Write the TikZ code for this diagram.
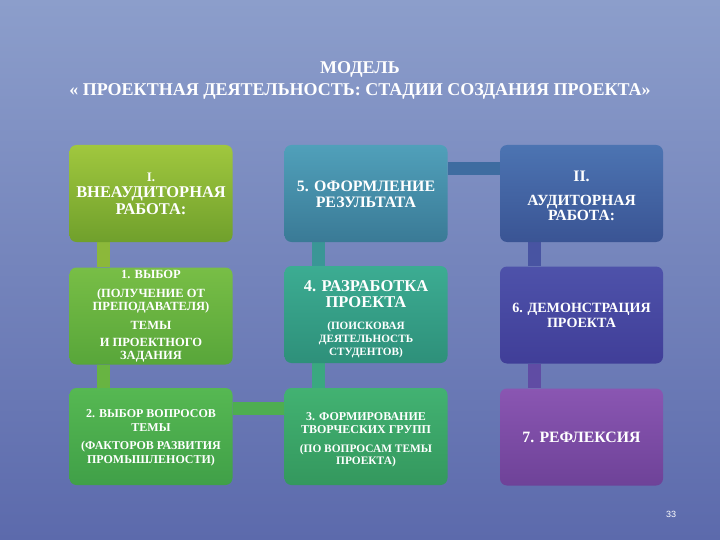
\documentclass[tikz,border=0pt]{standalone}
\usepackage{fontspec}
\setmainfont{Liberation Serif}
\setsansfont{Liberation Sans}
\definecolor{bgtop}{RGB}{140,158,203}
\definecolor{bgbot}{RGB}{92,106,172}
\definecolor{aT}{RGB}{160,199,62}\definecolor{aB}{RGB}{112,160,44}
\definecolor{bT}{RGB}{120,190,70}\definecolor{bB}{RGB}{88,166,58}
\definecolor{cT}{RGB}{86,184,82}\definecolor{cB}{RGB}{64,160,72}
\definecolor{dT}{RGB}{80,160,186}\definecolor{dB}{RGB}{58,122,150}
\definecolor{eT}{RGB}{60,172,146}\definecolor{eB}{RGB}{46,144,122}
\definecolor{fT}{RGB}{66,178,114}\definecolor{fB}{RGB}{52,152,94}
\definecolor{gT}{RGB}{76,116,178}\definecolor{gB}{RGB}{58,84,148}
\definecolor{hT}{RGB}{78,82,170}\definecolor{hB}{RGB}{64,62,152}
\definecolor{iT}{RGB}{138,86,178}\definecolor{iB}{RGB}{110,66,152}
\definecolor{c1}{RGB}{140,184,58}
\definecolor{c2}{RGB}{104,180,66}
\definecolor{c3}{RGB}{78,174,80}
\definecolor{c4}{RGB}{58,168,128}
\definecolor{c5}{RGB}{58,150,150}
\definecolor{c6}{RGB}{62,108,160}
\definecolor{c7}{RGB}{72,84,162}
\definecolor{c8}{RGB}{96,76,164}
\pgfdeclarelayer{backdrop}
\pgfdeclarelayer{links}
\pgfsetlayers{backdrop,links,main}
\newcommand{\fsz}[2]{\fontsize{#1}{#2}\selectfont}
\tikzset{
  box/.style={rounded corners=7pt, minimum width=163pt, minimum height=97pt},
  txt/.style={align=center, text=white, inner sep=1pt},
  conn/.style={line width=13pt},
}
\begin{document}
\begin{tikzpicture}[x=1pt,y=-1pt]
\begin{pgfonlayer}{backdrop}
\shade[top color=bgtop, bottom color=bgbot] (0,0) rectangle (720,540);
\end{pgfonlayer}
\useasboundingbox (0,0) rectangle (720,540);

\node[txt, font=\bfseries\fsz{18}{22}] (title) at (360,80)
  {МОДЕЛЬ\\« ПРОЕКТНАЯ ДЕЯТЕЛЬНОСТЬ: СТАДИИ СОЗДАНИЯ ПРОЕКТА»};

% boxes
\node[box, top color=aT, bottom color=aB] (b1)  at (151,193.5) {};
\node[box, top color=bT, bottom color=bB] (b1b) at (151,316) {};
\node[box, top color=cT, bottom color=cB] (b2)  at (151,436.5) {};
\node[box, top color=dT, bottom color=dB] (b5)  at (366,193.5) {};
\node[box, top color=eT, bottom color=eB] (b4)  at (366,314.5) {};
\node[box, top color=fT, bottom color=fB] (b3)  at (366,436.5) {};
\node[box, top color=gT, bottom color=gB] (bII) at (581.5,193.5) {};
\node[box, top color=hT, bottom color=hB] (b6)  at (581.5,315) {};
\node[box, top color=iT, bottom color=iB] (b7)  at (581.5,437) {};

% connectors (behind boxes)
\begin{pgfonlayer}{links}
\draw[conn, c1] ([xshift=-48pt]b1.south) -- ([xshift=-48pt]b1b.north);
\draw[conn, c2] ([xshift=-48pt]b1b.south) -- ([xshift=-48pt]b2.north);
\draw[conn, c3] ([yshift=28.5pt]b2.east) -- ([yshift=28.5pt]b3.west);
\draw[conn, c4] ([xshift=-48pt]b3.north) -- ([xshift=-48pt]b4.south);
\draw[conn, c5] ([xshift=-48pt]b4.north) -- ([xshift=-48pt]b5.south);
\draw[conn, c6] ([yshift=25pt]b5.east) -- ([yshift=25pt]bII.west);
\draw[conn, c7] ([xshift=-47.5pt]bII.south) -- ([xshift=-47.5pt]b6.north);
\draw[conn, c8] ([xshift=-47.5pt]b6.south) -- ([xshift=-47.5pt]b7.north);
\end{pgfonlayer}

% texts
\node[txt, font=\bfseries\fsz{16.4}{17}] (t1) at (b1.center)
  {\fsz{13}{13}I.\\[-1pt]ВНЕАУДИТОРНАЯ\\РАБОТА:};
\node[txt, font=\bfseries\fsz{12.5}{13}] (t1b) at (b1b.center)
  {1. ВЫБОР\\[6pt](ПОЛУЧЕНИЕ ОТ\\ПРЕПОДАВАТЕЛЯ)\\[6pt]ТЕМЫ\\[4pt]И ПРОЕКТНОГО\\ЗАДАНИЯ};
\node[txt, font=\bfseries\fsz{12}{14}, yshift=-1.5pt] (t2) at (b2.center)
  {2. ВЫБОР ВОПРОСОВ\\ТЕМЫ\\[4pt](ФАКТОРОВ РАЗВИТИЯ\\ПРОМЫШЛЕНОСТИ)};
\node[txt, font=\bfseries\fsz{15.9}{16}, yshift=-1pt] (t5) at (b5.center)
  {5. ОФОРМЛЕНИЕ\\РЕЗУЛЬТАТА};
\node[txt, font=\bfseries\fsz{16.5}{13}, yshift=-5pt] (t4) at (b4.center)
  {4. РАЗРАБОТКА\\[3pt]ПРОЕКТА\\[9pt]\fsz{11.2}{13}(ПОИСКОВАЯ\\\fsz{11.2}{13}ДЕЯТЕЛЬНОСТЬ\\\fsz{11.2}{13}СТУДЕНТОВ)};
\node[txt, font=\bfseries\fsz{12}{13}, yshift=-3pt] (t3) at (b3.center)
  {3. ФОРМИРОВАНИЕ\\ТВОРЧЕСКИХ ГРУПП\\[6pt]\fsz{11.4}{13}(ПО ВОПРОСАМ ТЕМЫ\\[-1pt]\fsz{11.4}{13}ПРОЕКТА)};
\node[txt, font=\bfseries\fsz{15.5}{14.5}, yshift=-2pt] (tII) at (bII.center)
  {\fsz{16}{16}II.\\[10pt]АУДИТОРНАЯ\\РАБОТА:};
\node[txt, font=\bfseries\fsz{14.1}{15}] (t6) at (b6.center)
  {6. ДЕМОНСТРАЦИЯ\\ПРОЕКТА};
\node[txt, font=\bfseries\fsz{15.8}{16}] (t7) at (b7.center)
  {7. РЕФЛЕКСИЯ};

\node[text=white, font=\sffamily\fsz{9}{10}] (pg) at (671,514) {33};
\end{tikzpicture}
\end{document}
